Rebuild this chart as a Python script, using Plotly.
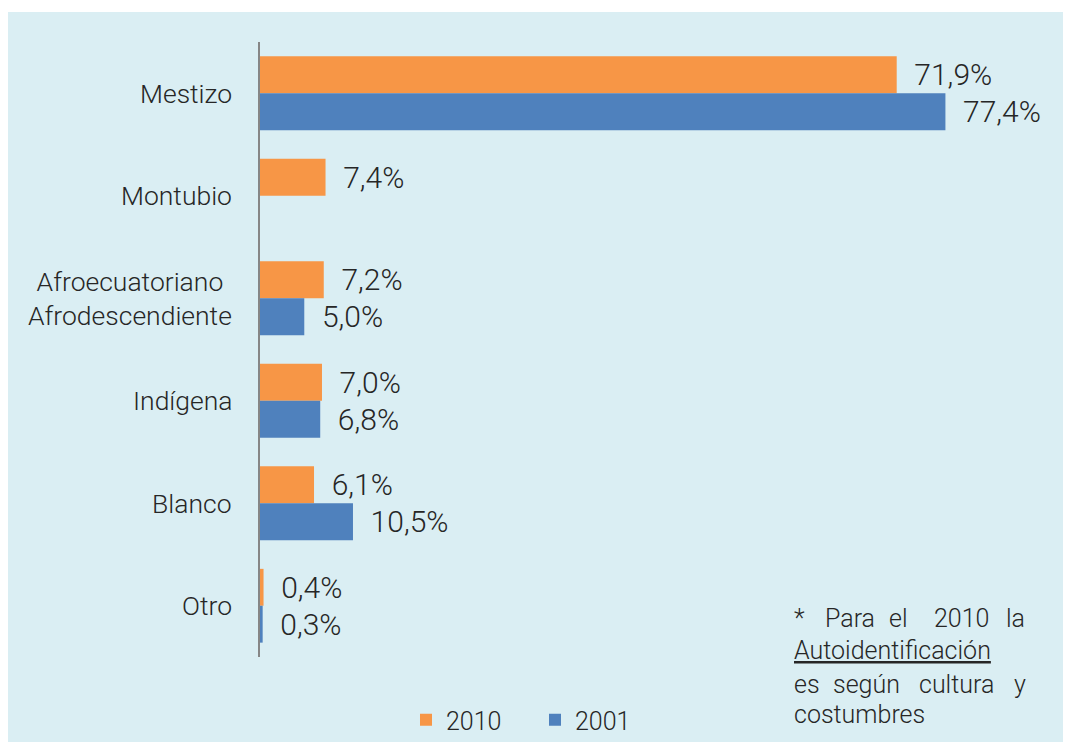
import plotly.graph_objects as go

categories = ["Mestizo", "Montubio", "Afroecuatoriano<br>Afrodescendiente", "Indígena", "Blanco", "Otro"]
values_2010 = [71.9, 7.4, 7.2, 7.0, 6.1, 0.4]
values_2001 = [77.4, None, 5.0, 6.8, 10.5, 0.3]

W, H = 1071, 742
OFF = 8  # page body margin
L, R, T, B = 260 - OFF, 1057 - OFF, 42 - OFF, 657 - OFF
FONT = "Roboto"
TXT = "#262626"


def fmt(v):
    return "" if v is None else "  " + f"{v:.1f}".replace(".", ",") + "%"


def px(x):
    # page pixel -> paper fraction
    return (x - OFF - L) / (R - L)


def py(y):
    return (B - (y - OFF)) / (B - T)


fig = go.Figure()
fig.add_trace(go.Bar(
    name="2010", y=categories, x=values_2010, orientation="h",
    marker=dict(color="#F79646", line=dict(width=0)),
    text=[fmt(v) for v in values_2010], textposition="outside",
    textfont=dict(family=FONT, size=30, color=TXT, weight=300),
    cliponaxis=False, constraintext="none",
))
fig.add_trace(go.Bar(
    name="2001", y=categories, x=values_2001, orientation="h",
    marker=dict(color="#4F81BD", line=dict(width=0)),
    text=[fmt(v) for v in values_2001], textposition="outside",
    textfont=dict(family=FONT, size=30, color=TXT, weight=300),
    cliponaxis=False, constraintext="none",
))

annotations = []
for c in categories:
    annotations.append(dict(
        x=0, xref="paper", y=c, yref="y", xshift=-26, xanchor="right",
        align="center", text=c, showarrow=False,
        font=dict(family=FONT, size=26.5, color=TXT, weight=300),
    ))

note_font = dict(family=FONT, size=25, color=TXT, weight=300)
note_words = [
    ("*", 792, 618), ("Para", 823, 618), ("el", 887, 618), ("2010", 932, 618), ("la", 1004, 618),
    ("<u>Autoidentificación</u>", 792, 650),
    ("es", 792, 684), ("según", 831, 684), ("cultura", 917, 684), ("y", 1012, 684),
    ("costumbres", 792, 714),
]
for t, x, y in note_words:
    annotations.append(dict(
        x=px(x), y=py(y), xref="paper", yref="paper", xanchor="left", yanchor="middle",
        text=t, showarrow=False, font=note_font,
    ))

fig.update_layout(
    width=W, height=H,
    margin=dict(l=L, r=W - R, t=T, b=H - B),
    paper_bgcolor="#DAEEF3", plot_bgcolor="#DAEEF3",
    barmode="group", bargap=0.28, bargroupgap=0,
    showlegend=True,
    legend=dict(
        orientation="h", xref="container", yref="container",
        x=(406 - OFF) / W, xanchor="left", y=1 - (720 - OFF) / H, yanchor="middle",
        font=dict(family=FONT, size=25, color=TXT, weight=300),
        entrywidth=84, entrywidthmode="pixels", bgcolor="rgba(0,0,0,0)",
    ),
    xaxis=dict(range=[0, 90], visible=False, showgrid=False, zeroline=False),
    yaxis=dict(
        autorange="reversed", showticklabels=False, showgrid=False, zeroline=False,
        showline=True, linecolor="#868686", linewidth=2, ticks="",
    ),
    annotations=annotations,
    shapes=[
        dict(type="rect", xref="paper", yref="paper", x0=px(0), x1=px(W + 20), y0=py(OFF - 2), y1=py(12),
             fillcolor="white", line=dict(width=0), layer="below"),
    ],
)

fig.write_html("out.html")
